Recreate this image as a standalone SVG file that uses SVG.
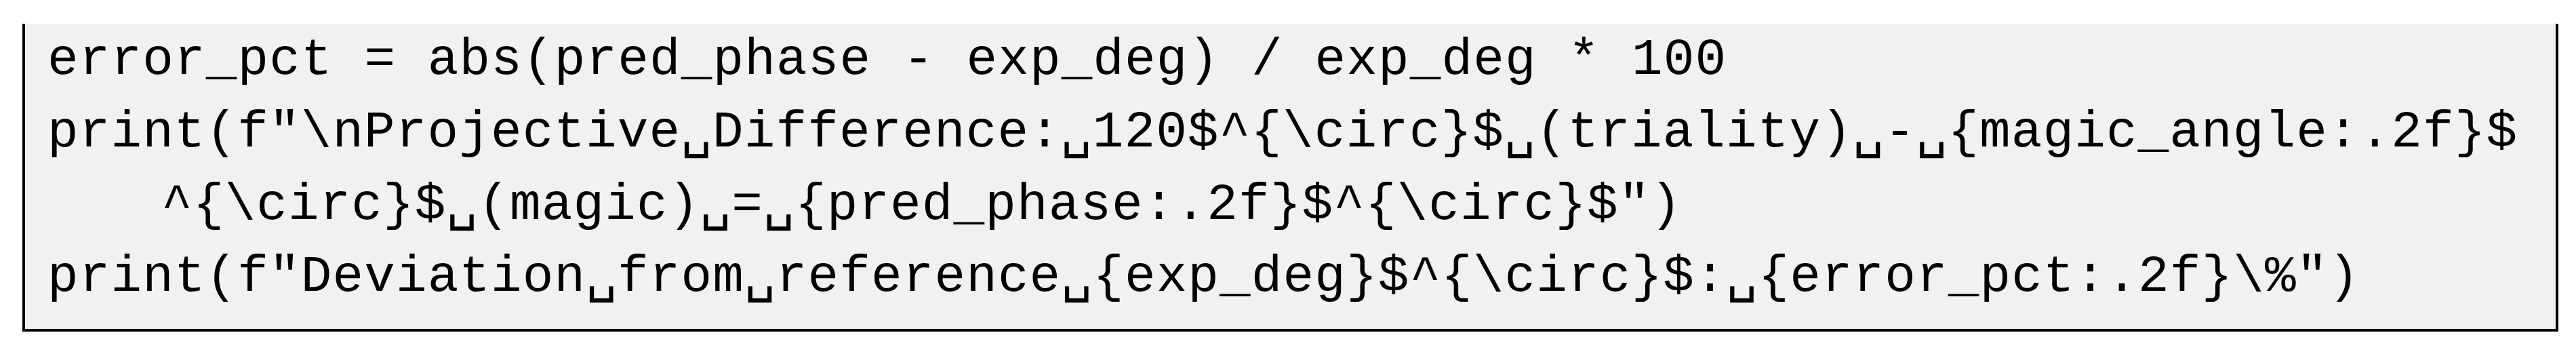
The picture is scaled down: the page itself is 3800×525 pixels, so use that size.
<svg xmlns="http://www.w3.org/2000/svg" width="3800" height="525" viewBox="0 0 3800 525">
<style>
.code{font-family:"Liberation Mono","DejaVu Sans Mono",monospace;font-size:76px;fill:#000}
</style>
<rect width="3800" height="525" fill="#fff"/>
<g id="codebox">
<rect x="35" y="35" width="3737" height="452" fill="#f1f1f1"/>
<path d="M35 35 V487 H3772 V35" fill="none" stroke="#000" stroke-width="4"/>
</g>
<g id="code">
<text class="code" x="70" y="109" textLength="2476" lengthAdjust="spacing">error_pct = abs(pred_phase - exp_deg) / exp_deg * 100</text>
<text class="code" x="70" y="216" textLength="3643" lengthAdjust="spacing">print(f"\nProjective␣Difference:␣120$^{\circ}$␣(triality)␣-␣{magic_angle:.2f}$</text>
<text class="code" x="238" y="323" textLength="2242" lengthAdjust="spacing">^{\circ}$␣(magic)␣=␣{pred_phase:.2f}$^{\circ}$")</text>
<text class="code" x="70" y="429" textLength="3410" lengthAdjust="spacing">print(f"Deviation␣from␣reference␣{exp_deg}$^{\circ}$:␣{error_pct:.2f}\%")</text>
</g>
</svg>
